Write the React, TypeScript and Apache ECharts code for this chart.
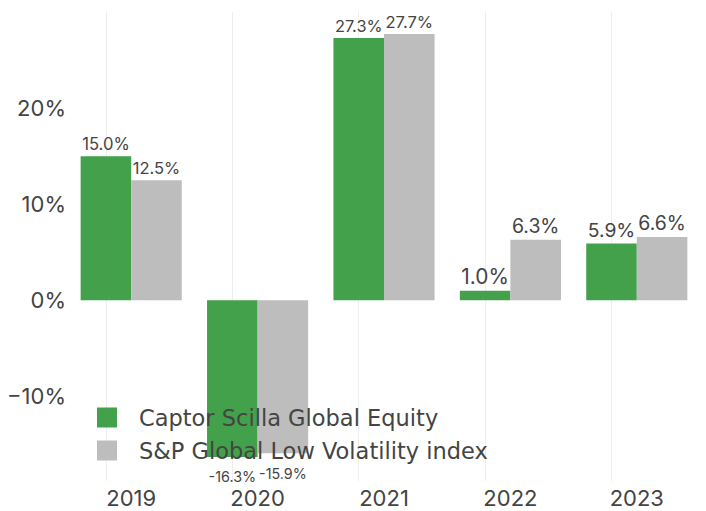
import React, { useEffect, useRef } from "react";
import * as echarts from "echarts";

const categories = ["2019", "2020", "2021", "2022", "2023"];
const captorValues = [15.0, -16.3, 27.3, 1.0, 5.9];
const spValues = [12.5, -15.9, 27.7, 6.3, 6.6];
const seriesNames = ["Captor Scilla Global Equity", "S&P Global Low Volatility index"];
const yTickValues = [-10, 0, 10, 20];

const FONT = "Inter, 'Open Sans', sans-serif";
const LEGEND_FONT = "'DejaVu Sans', Inter, sans-serif";
const W = 706;
const H = 511;
const GRID = { left: 68, right: 6, top: 12, bottom: 30 };
const BAR_W = ((W - GRID.left - GRID.right) / categories.length) * 0.8 / 2;
const TEXT = "#444444";
const GREEN = "#43a14b";
const GREY = "#bdbdbd";

function fmt(v: number) {
  return v.toFixed(1) + "%";
}

function fitSize(text: string, max: number) {
  const c = document.createElement("canvas");
  const ctx = c.getContext("2d");
  if (!ctx) return max;
  ctx.font = `${max}px ${FONT}`;
  const w = ctx.measureText(text).width;
  return Math.min(max, (max * (BAR_W - 3)) / w);
}

function buildData(values: number[]) {
  return values.map((v) => ({
    value: v,
    label: {
      position: v < 0 ? "bottom" : "top",
      distance: v < 0 ? 13 : 4,
      fontSize: fitSize(fmt(v), 22),
    },
  }));
}

export default function App() {
  const ref = useRef<HTMLDivElement>(null);
  useEffect(() => {
    if (!ref.current) return;
    const chart = echarts.init(ref.current, undefined, { renderer: "svg" });
    const labelCommon = {
      show: true,
      color: TEXT,
      fontFamily: FONT,
      formatter: (p: any) => fmt(p.value),
    };
    chart.setOption({
      animation: false,
      backgroundColor: "#ffffff",
      textStyle: { fontFamily: FONT, color: TEXT },
      grid: { ...GRID, containLabel: false },
      legend: {
        orient: "vertical",
        left: 97,
        top: 406,
        padding: 0,
        itemWidth: 20,
        itemHeight: 20,
        itemGap: 10,
        icon: "rect",
        textStyle: {
          fontSize: 22.5,
          color: TEXT,
          fontFamily: LEGEND_FONT,
          padding: [0, 0, 0, 17],
          lineHeight: 20,
          height: 20,
        },
        data: seriesNames,
      },
      xAxis: {
        type: "category",
        data: categories,
        axisLine: { show: false },
        axisTick: { show: false },
        splitLine: { show: false },
        axisLabel: { fontSize: 22, color: TEXT, fontFamily: FONT, margin: 6 },
      },
      yAxis: {
        type: "value",
        min: -18.8,
        max: 30,
        axisLine: { show: false },
        axisTick: { show: false },
        splitLine: { show: false },
        axisLabel: {
          fontSize: 22,
          color: TEXT,
          fontFamily: FONT,
          margin: 2,
          formatter: (v: number) => {
            const r = Math.round(v);
            if (Math.abs(v - r) > 1e-6 || !yTickValues.includes(r)) return "";
            return r < 0 ? "\u2212" + Math.abs(r) + "%" : r + "%";
          },
        },
      },
      series: [
        {
          name: seriesNames[0],
          type: "bar",
          barGap: "0%",
          barCategoryGap: "20%",
          itemStyle: { color: GREEN },
          label: labelCommon,
          data: buildData(captorValues),
          markLine: {
            silent: true,
            z: 1,
            symbol: ["none", "none"],
            label: { show: false },
            lineStyle: { color: "#eeeeee", width: 1, type: "solid" },
            data: categories.map((c) => ({ xAxis: c })),
          },
        },
        {
          name: seriesNames[1],
          type: "bar",
          barGap: "0%",
          barCategoryGap: "20%",
          itemStyle: { color: GREY },
          label: labelCommon,
          data: buildData(spValues),
        },
      ],
    });
    return () => chart.dispose();
  }, []);
  return <div ref={ref} style={{ width: W, height: H, position: "absolute", left: 0, top: 0 }} />;
}
